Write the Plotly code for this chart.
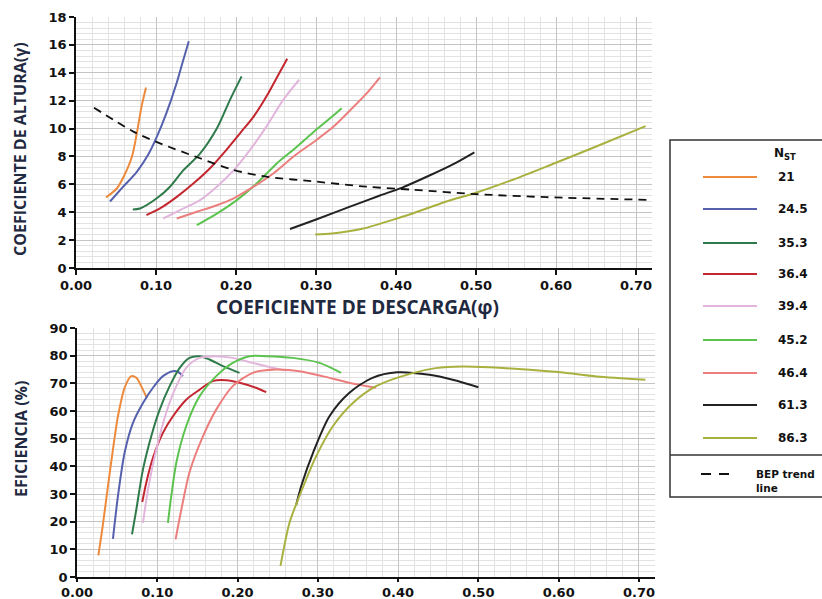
import plotly.graph_objects as go

W, H = 822, 599

labels = ["21", "24.5", "35.3", "36.4", "39.4", "45.2", "46.4", "61.3", "86.3"]
colors = ["#EE8a3c", "#5561ad", "#2f7a4a", "#c4262f", "#e2b6dc", "#5cc34f", "#ec7e7e", "#222222", "#a9b13e"]

# Top chart: head coefficient vs discharge coefficient
phi_top = [
    [0.0375, 0.051, 0.060, 0.070, 0.076, 0.082, 0.0875],
    [0.0425, 0.059, 0.076, 0.090, 0.101, 0.113, 0.126, 0.134, 0.141],
    [0.071, 0.080, 0.101, 0.1175, 0.134, 0.155, 0.176, 0.1925, 0.207],
    [0.088, 0.105, 0.126, 0.147, 0.1675, 0.188, 0.205, 0.222, 0.238, 0.253, 0.264],
    [0.109, 0.130, 0.155, 0.176, 0.197, 0.2175, 0.238, 0.259, 0.279],
    [0.151, 0.176, 0.201, 0.226, 0.251, 0.272, 0.297, 0.322, 0.332],
    [0.126, 0.151, 0.176, 0.197, 0.222, 0.247, 0.272, 0.301, 0.322, 0.3425, 0.363, 0.380],
    [0.2675, 0.301, 0.3425, 0.380, 0.407, 0.4425, 0.4717, 0.498],
    [0.299, 0.320, 0.359, 0.405, 0.4217, 0.463, 0.499, 0.547, 0.599, 0.651, 0.712],
]
psi_top = [
    [5.06, 5.7, 6.6, 8.0, 9.66, 11.6, 12.95],
    [4.77, 5.83, 6.9, 8.1, 9.4, 11.1, 13.3, 14.9, 16.26],
    [4.2, 4.27, 5.0, 5.83, 7.0, 8.2, 10.0, 12.06, 13.74],
    [3.79, 4.27, 5.1, 6.07, 7.15, 8.47, 9.66, 10.86, 12.3, 13.86, 15.0],
    [3.55, 4.15, 4.87, 5.83, 7.0, 8.47, 10.14, 12.06, 13.5],
    [3.07, 3.9, 4.87, 6.07, 7.5, 8.5, 9.75, 10.95, 11.46],
    [3.55, 4.03, 4.5, 5.0, 5.83, 6.8, 8.0, 9.2, 10.14, 11.3, 12.5, 13.67],
    [2.8, 3.5, 4.4, 5.2, 5.75, 6.65, 7.45, 8.3],
    [2.4, 2.47, 2.83, 3.62, 3.93, 4.77, 5.38, 6.35, 7.53, 8.73, 10.17],
]

# BEP trend line
bep_phi = [0.0225, 0.0717, 0.105, 0.155, 0.197, 0.238, 0.301, 0.363, 0.4217, 0.499, 0.588, 0.713]
bep_psi = [11.5, 9.78, 8.94, 7.87, 7.03, 6.55, 6.19, 5.83, 5.61, 5.30, 5.08, 4.89]

# Bottom chart: efficiency vs discharge coefficient
phi_bot = [
    [0.0266, 0.032, 0.0386, 0.0448, 0.051, 0.0593, 0.0676, 0.074, 0.080, 0.087],
    [0.0448, 0.051, 0.0593, 0.0697, 0.0822, 0.0946, 0.107, 0.1195, 0.126, 0.132],
    [0.0685, 0.0739, 0.0822, 0.0925, 0.103, 0.1154, 0.128, 0.140, 0.1527, 0.165, 0.1817, 0.2025],
    [0.0813, 0.0863, 0.0946, 0.107, 0.1195, 0.136, 0.1527, 0.169, 0.186, 0.2025, 0.223, 0.2357],
    [0.0822, 0.0884, 0.0988, 0.111, 0.1237, 0.136, 0.1527, 0.1734, 0.194, 0.219, 0.2357, 0.2606],
    [0.1133, 0.1174, 0.1237, 0.136, 0.1527, 0.1734, 0.194, 0.215, 0.2357, 0.269, 0.302, 0.329],
    [0.1228, 0.130, 0.140, 0.157, 0.1734, 0.194, 0.219, 0.248, 0.277, 0.306, 0.339, 0.3726],
    [0.273, 0.280, 0.294, 0.3145, 0.339, 0.368, 0.3990, 0.439, 0.468, 0.500],
    [0.2535, 0.2647, 0.277, 0.298, 0.3187, 0.3436, 0.3726, 0.418, 0.447, 0.480, 0.514, 0.564, 0.605, 0.647, 0.708],
]
eff_bot = [
    [7.8, 18.4, 32.9, 46.1, 58.1, 68.4, 72.6, 72.0, 69.0, 64.7],
    [13.8, 29.2, 44.9, 55.7, 62.9, 68.4, 72.6, 74.4, 74.1, 72.6],
    [15.4, 24.4, 38.9, 50.9, 60.5, 69.0, 75.6, 79.2, 79.8, 78.6, 76.2, 73.8],
    [27.1, 34.1, 43.1, 52.1, 58.1, 64.1, 67.7, 70.8, 71.1, 70.2, 68.4, 66.8],
    [19.6, 31.6, 46.1, 59.3, 69.0, 75.6, 79.2, 79.8, 79.2, 77.4, 76.2, 74.6],
    [19.6, 29.2, 41.3, 54.5, 65.3, 72.6, 77.4, 79.8, 79.8, 79.2, 77.4, 73.8],
    [13.6, 24.4, 37.7, 50.9, 60.5, 69.0, 73.8, 75.0, 74.4, 72.6, 70.2, 68.4],
    [26.0, 33.5, 44.9, 58.1, 66.5, 72.0, 74.0, 73.1, 71.3, 68.6],
    [4.0, 19.6, 29.2, 43.7, 54.5, 62.9, 69.0, 73.7, 75.5, 76.1, 75.8, 74.9, 73.9, 72.5, 71.3],
]

x_ticks = [0.0, 0.1, 0.2, 0.3, 0.4, 0.5, 0.6, 0.7]
y_ticks_top = [0, 2, 4, 6, 8, 10, 12, 14, 16, 18]
y_ticks_bot = [0, 10, 20, 30, 40, 50, 60, 70, 80, 90]

fig = go.Figure()

for i in range(len(labels)):
    fig.add_trace(go.Scatter(x=phi_top[i], y=psi_top[i], mode="lines", name=labels[i],
                             line=dict(color=colors[i], width=2, shape="spline", smoothing=0.8),
                             xaxis="x", yaxis="y", showlegend=False))
fig.add_trace(go.Scatter(x=bep_phi, y=bep_psi, mode="lines", name="BEP trend line",
                         line=dict(color="#111111", width=1.8, dash="8px,6px", shape="spline", smoothing=0.8),
                         xaxis="x", yaxis="y", showlegend=False))
for i in range(len(labels)):
    fig.add_trace(go.Scatter(x=phi_bot[i], y=eff_bot[i], mode="lines", name=labels[i],
                             line=dict(color=colors[i], width=2, shape="spline", smoothing=0.8),
                             xaxis="x2", yaxis="y2", showlegend=False))

def px_x(p):
    return p / W

def px_y(p):
    return 1 - p / H

tickfont = dict(family="DejaVu Sans", size=13, color="#111111", weight="bold")
axis_common = dict(showgrid=True, gridcolor="#c4c4c4", gridwidth=1, showline=True, linecolor="#111111",
                   linewidth=1.5, ticks="outside", tickwidth=1.5, tickcolor="#111111",
                   tickfont=tickfont, zeroline=False, automargin=False)
common_x = dict(range=[0, 0.72], tickvals=x_ticks, tickformat=".2f",
                minor=dict(dtick=0.02, showgrid=True, gridcolor="#e2e2e2", gridwidth=1, ticks=""),
                **axis_common)

fig.update_layout(
    width=W, height=H,
    margin=dict(l=0, r=0, t=0, b=0, autoexpand=False),
    paper_bgcolor="white", plot_bgcolor="white",
    xaxis=dict(domain=[px_x(76), px_x(652)], anchor="y", ticklen=5, **common_x),
    yaxis=dict(domain=[px_y(268), px_y(17)], anchor="x", range=[0, 18], tickvals=y_ticks_top, ticklen=5,
               minor=dict(dtick=0.4, showgrid=True, gridcolor="#e2e2e2", gridwidth=1, ticks=""),
               **axis_common),
    xaxis2=dict(domain=[px_x(77), px_x(655)], anchor="y2", ticklen=3, **common_x),
    yaxis2=dict(domain=[px_y(577), px_y(328)], anchor="x2", range=[0, 90], tickvals=y_ticks_bot, ticklen=5,
                minor=dict(dtick=2, showgrid=True, gridcolor="#e2e2e2", gridwidth=1, ticks=""),
                **axis_common),
)

annotations = [
    dict(text="COEFICIENTE DE DESCARGA(φ)", x=px_x(357), y=px_y(307), xref="paper", yref="paper",
         xanchor="center", yanchor="middle", showarrow=False,
         font=dict(family="Open Sans", size=19, color="#1f2940", weight="bold")),
    dict(text="COEFICIENTE DE ALTURA(γ)", x=px_x(20), y=px_y(149), xref="paper", yref="paper",
         xanchor="center", yanchor="middle", showarrow=False, textangle=-90,
         font=dict(family="Open Sans", size=16, color="#1f2940", weight="bold")),
    dict(text="EFICIENCIA (%)", x=px_x(21), y=px_y(439), xref="paper", yref="paper",
         xanchor="center", yanchor="middle", showarrow=False, textangle=-90,
         font=dict(family="Open Sans", size=16, color="#1f2940", weight="bold")),
]

legend_font = dict(family="DejaVu Sans", size=12, color="#111111", weight="bold")
shapes = [
    dict(type="rect", xref="paper", yref="paper", x0=px_x(670), x1=px_x(840), y0=px_y(497), y1=px_y(140),
         line=dict(color="#333333", width=1.5), fillcolor="rgba(0,0,0,0)"),
    dict(type="line", xref="paper", yref="paper", x0=px_x(670), x1=px_x(840), y0=px_y(455), y1=px_y(455),
         line=dict(color="#333333", width=1.5)),
]
annotations.append(dict(text="N<sub>ST</sub>", x=px_x(785), y=px_y(154), xref="paper", yref="paper",
                        xanchor="center", yanchor="middle", showarrow=False,
                        font=dict(family="DejaVu Sans", size=12, color="#111111", weight="bold")))
leg_y = [177, 209, 243, 274, 306, 340, 373, 405, 438]
for i, lab in enumerate(labels):
    yy = px_y(leg_y[i])
    shapes.append(dict(type="line", xref="paper", yref="paper", x0=px_x(703), x1=px_x(757), y0=yy, y1=yy,
                       line=dict(color=colors[i], width=2)))
    annotations.append(dict(text=lab, x=px_x(776), y=yy, xref="paper", yref="paper", xanchor="left",
                            yanchor="middle", showarrow=False, font=legend_font))
shapes.append(dict(type="line", xref="paper", yref="paper", x0=px_x(701), x1=px_x(737), y0=px_y(474), y1=px_y(474),
                   line=dict(color="#111111", width=2, dash="10px,8px")))
annotations.append(dict(text="BEP trend<br>line", x=px_x(754), y=px_y(481), xref="paper", yref="paper",
                        xanchor="left", yanchor="middle", align="left", showarrow=False,
                        font=dict(family="DejaVu Sans", size=10.5, color="#111111", weight="bold")))

fig.update_layout(annotations=annotations, shapes=shapes)

fig.write_html("out.html", config={"displayModeBar": False},
               post_script="document.body.style.margin='0';document.body.style.overflow='hidden';")
